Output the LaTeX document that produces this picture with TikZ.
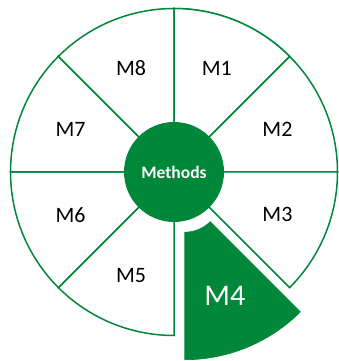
\documentclass[tikz,border=0pt]{standalone}
\usepackage{fontspec}
\setmainfont{Carlito}
\definecolor{mgreen}{RGB}{0,135,58}
\begin{document}
\begin{tikzpicture}[x=1pt,y=1pt,
  sec/.style={draw=mgreen,line width=1.5pt,fill=white,line join=miter},
  hot/.style={fill=mgreen,draw=mgreen,line width=0.6pt},
  hub/.style={circle,fill=mgreen,minimum size=100pt,inner sep=0pt,text=white,font=\bfseries\fontsize{17.5}{20}\selectfont},
  lab/.style={text=black,font=\fontsize{22}{24}\selectfont,inner sep=0pt},
  biglab/.style={text=white,font=\fontsize{30}{32}\selectfont,inner sep=0pt}]
\useasboundingbox (0,0) rectangle (338,361);
\begin{scope}[shift={(174,189)}]
  \def\R{163.5}
  \def\r{36}
  \foreach \a in {90,45,0,-90,-135,-180,-225,-270}{
    \draw[sec] (\a:\r) -- (\a:\R) arc[start angle=\a, end angle=\a-45, radius=\R]
      -- (\a-45:\r) arc[start angle=\a-45, end angle=\a, radius=\r] -- cycle;
  }
  \begin{scope}[shift={(-66:26.5)}]
    \draw[hot] (-45:\r) -- (-45:\R) arc[start angle=-45, end angle=-90, radius=\R]
      -- (-90:\r) arc[start angle=-90, end angle=-45, radius=\r] -- cycle;
    \node[biglab] (m4) at (-68:107) {M4};
  \end{scope}
  \node[hub] (hub) at (0,0) {Methods};
  \node[lab] (m1) at (67.5:112) {M1};
  \node[lab] (m2) at (22.5:112) {M2};
  \node[lab] (m3) at (-22.5:112) {M3};
  \node[lab] (m5) at (-112.5:112) {M5};
  \node[lab] (m6) at (-157.5:112) {M6};
  \node[lab] (m7) at (157.5:112) {M7};
  \node[lab] (m8) at (112.5:112) {M8};
\end{scope}
\end{tikzpicture}
\end{document}
